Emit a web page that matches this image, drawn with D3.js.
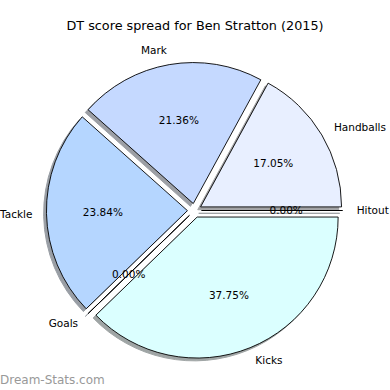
<!DOCTYPE html>
<html>
<head>
<meta charset="utf-8">
<script src="https://cdn.jsdelivr.net/npm/d3@7"></script>
<style>
  body { margin: 0; background: #fff; }
  text { font-family: "DejaVu Sans", sans-serif; }
</style>
</head>
<body>
<div id="chart"></div>
<script>
// data, matplotlib order (ccw from 3 o'clock)
var labels = ['Handballs', 'Mark', 'Tackle', 'Goals', 'Kicks', 'Hitout'];
var values = [17.05, 21.36, 23.84, 0, 37.75, 0];
var colors = ['#E8EFFF', '#C5D9FF', '#B5D6FF', '#C0E0FF', '#DBFFFF', '#D0E8FF'];
var titleText = 'DT score spread for Ben Stratton (2015)';

var W = 390, H = 390;
var cx = 194.5, cy = 210.5, R = 141;
var explode = 0.05 * R;
var shadowOff = 0.02 * R;

var svg = d3.select('#chart').append('svg')
    .attr('width', W)
    .attr('height', H);

var slices = labels.map(function(l, i){
    return {label: l, value: values[i], color: colors[i]};
});

// start at 3 o'clock and run counter-clockwise like matplotlib
var pie = d3.pie()
    .sort(null)
    .value(function(d){ return d.value; })
    .startAngle(Math.PI / 2)
    .endAngle(Math.PI / 2 - 2 * Math.PI);

var arcs = pie(slices);
var arc = d3.arc().innerRadius(0).outerRadius(R);

function mid(d){ return (d.startAngle + d.endAngle) / 2; }
function offX(d, r){ return Math.sin(mid(d)) * r; }
function offY(d, r){ return -Math.cos(mid(d)) * r; }

function darken(c){
    var rgb = d3.rgb(c);
    return d3.rgb(rgb.r * 0.3, rgb.g * 0.3, rgb.b * 0.3).toString();
}

var g = svg.append('g').attr('transform', 'translate(' + cx + ',' + cy + ')');

// shadows under everything
g.selectAll('path.shadow')
    .data(arcs)
    .enter()
    .append('path')
    .attr('class', 'shadow')
    .attr('d', arc)
    .attr('transform', function(d){
        return 'translate(' + (offX(d, explode) - shadowOff) + ',' + (offY(d, explode) + shadowOff) + ')';
    })
    .attr('fill', function(d){ return darken(d.data.color); })
    .attr('stroke', function(d){ return darken(d.data.color); })
    .attr('stroke-width', 1)
    .attr('opacity', 0.5);

g.selectAll('path.wedge')
    .data(arcs)
    .enter()
    .append('path')
    .attr('class', 'wedge')
    .attr('d', arc)
    .attr('transform', function(d){
        return 'translate(' + offX(d, explode) + ',' + offY(d, explode) + ')';
    })
    .attr('fill', function(d){ return d.data.color; })
    .attr('stroke', '#000')
    .attr('stroke-width', 0.9)
    .attr('stroke-linejoin', 'miter');

// outer labels
g.selectAll('text.lab')
    .data(arcs)
    .enter()
    .append('text')
    .attr('class', 'lab')
    .attr('x', function(d){ return offX(d, explode + 1.1 * R); })
    .attr('y', function(d){ return offY(d, explode + 1.1 * R); })
    .attr('dy', '0.35em')
    .attr('text-anchor', function(d){ return offX(d, 1) > 0 ? 'start' : 'end'; })
    .attr('font-size', 10.5)
    .attr('fill', '#000')
    .text(function(d){ return d.data.label; });

// percentages
g.selectAll('text.pct')
    .data(arcs)
    .enter()
    .append('text')
    .attr('class', 'pct')
    .attr('x', function(d){ return offX(d, explode + 0.6 * R); })
    .attr('y', function(d){ return offY(d, explode + 0.6 * R); })
    .attr('dy', '0.35em')
    .attr('text-anchor', 'middle')
    .attr('font-size', 10.5)
    .attr('fill', '#000')
    .text(function(d){ return d3.format('.2f')(d.data.value) + '%'; });

svg.append('text')
    .attr('x', 195)
    .attr('y', 30)
    .attr('text-anchor', 'middle')
    .attr('font-size', 12.8)
    .attr('fill', '#000')
    .text(titleText);

svg.append('text')
    .attr('x', 0)
    .attr('y', 384)
    .attr('font-size', 12)
    .attr('fill', '#999')
    .text('Dream-Stats.com');
</script>
</body>
</html>
